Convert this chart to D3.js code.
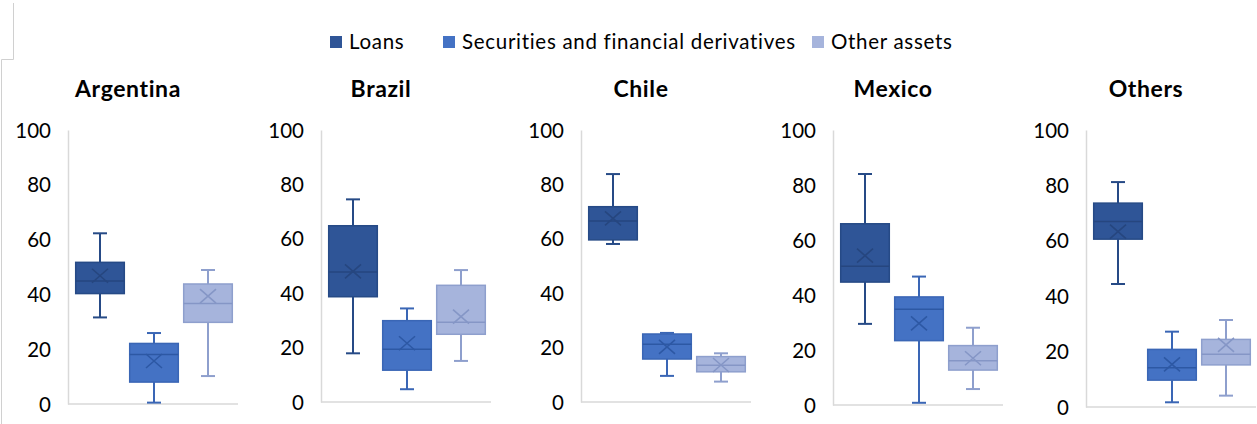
<!DOCTYPE html>
<html>
<head>
<meta charset="utf-8">
<script src="https://cdn.jsdelivr.net/npm/d3@7"></script>
<style>
  html, body { margin: 0; padding: 0; background: #fff; }
  svg { display: block; }
  text { font-family: Lato, "Noto Sans", sans-serif; fill: #000; }
</style>
</head>
<body>
<svg id="chart" width="1257" height="424"></svg>
<script>
// ---- data ----
const countries = ["Argentina", "Brazil", "Chile", "Mexico", "Others"];
const seriesNames = ["Loans", "Securities and financial derivatives", "Other assets"];
const yTicks = [0, 20, 40, 60, 80, 100];
// each row: one country; each column: Loans, Securities, Other assets
const whiskerMin = [[31.6, 0.5, 10.2], [17.9, 4.7, 15.1], [58.1, 9.6, 7.5], [29.5, 0.8, 5.8], [44.4, 1.7, 4.1]];
const quartile1  = [[40.3, 8.0, 29.8], [38.7, 11.7, 24.9], [59.6, 15.8, 11.1], [44.7, 23.4, 12.7], [60.6, 9.7, 15.2]];
const medians    = [[44.9, 18.1, 36.7], [47.8, 19.4, 29.3], [66.5, 21.2, 13.5], [50.5, 34.8, 16.1], [67.0, 14.2, 19.0]];
const quartile3  = [[51.7, 22.1, 43.8], [64.8, 29.9, 42.9], [71.8, 25.0, 16.7], [65.9, 39.3, 21.6], [73.6, 20.8, 24.4]];
const whiskerMax = [[62.3, 25.9, 48.9], [74.5, 34.4, 48.5], [83.8, 25.4, 17.9], [84.0, 46.7, 28.1], [81.2, 27.2, 31.4]];
const means      = [[46.8, 15.7, 39.4], [48.0, 21.6, 31.4], [67.5, 20.3, 13.6], [54.3, 29.7, 17.0], [63.3, 15.4, 22.4]];

// ---- layout & style ----
const panelX = [68, 321, 581, 833, 1086];
const panelBase = [404, 402, 402, 405, 407];
const panelTop = 130;
const panelW = 170;
const fills   = ["#2F5597", "#4472C4", "#A6B4DC"];
const strokes = ["#264A86", "#3A66B5", "#8E9FCD"];
const marks   = ["#26467F", "#2D58A4", "#8596C6"];

const svg = d3.select("#chart");

// decorative frame lines on the left edge
svg.append("path")
  .attr("d", "M13.5,3 V59.5 H1.5 V424")
  .attr("fill", "none").attr("stroke", "#D0D0D0").attr("stroke-width", 1);

// legend
const legendX = [330, 443, 812];
const lg = svg.append("g");
seriesNames.forEach((name, i) => {
  lg.append("rect").attr("x", legendX[i]).attr("y", 36).attr("width", 12).attr("height", 12)
    .attr("fill", fills[i]);
  lg.append("text").attr("x", legendX[i] + 19).attr("y", 49)
    .attr("font-size", 20.5).attr("letter-spacing", 0.7).text(name);
});

countries.forEach((country, ci) => {
  const x0 = panelX[ci];
  const y = d3.scaleLinear().domain([0, 100]).range([panelBase[ci], panelTop]);
  const xb = d3.scaleBand().domain(d3.range(seriesNames.length))
    .range([x0 + 5, x0 + 167]).paddingInner(0.1).paddingOuter(0.05);
  const g = svg.append("g");

  // title
  g.append("text").attr("x", x0 + 60).attr("y", 97).attr("text-anchor", "middle")
    .attr("font-size", 23).attr("letter-spacing", 0.6).attr("font-weight", "bold").text(country);

  // y axis
  const axis = d3.axisLeft(y).tickValues(yTicks).tickSize(0).tickPadding(17);
  const ag = g.append("g").attr("transform", `translate(${x0},0)`).call(axis);
  ag.select(".domain").attr("stroke", "#D9D9D9").attr("stroke-width", 1.5);
  ag.selectAll("text").attr("font-size", 20.5).attr("font-family", "Lato, 'Noto Sans', sans-serif")
    .attr("fill", "#000").attr("dy", "0.35em");
  // baseline
  g.append("line").attr("x1", x0).attr("x2", x0 + panelW)
    .attr("y1", y(0)).attr("y2", y(0)).attr("stroke", "#D9D9D9").attr("stroke-width", 1.5);

  seriesNames.forEach((s, si) => {
    const bx = xb(si), bw = xb.bandwidth(), cx = bx + bw / 2;
    const capW = 14;
    // whiskers
    g.append("line").attr("x1", cx).attr("x2", cx)
      .attr("y1", y(whiskerMax[ci][si])).attr("y2", y(quartile3[ci][si]))
      .attr("stroke", strokes[si]).attr("stroke-width", 2);
    g.append("line").attr("x1", cx).attr("x2", cx)
      .attr("y1", y(quartile1[ci][si])).attr("y2", y(whiskerMin[ci][si]))
      .attr("stroke", strokes[si]).attr("stroke-width", 2);
    [whiskerMax[ci][si], whiskerMin[ci][si]].forEach(v => {
      g.append("line").attr("x1", cx - capW / 2).attr("x2", cx + capW / 2)
        .attr("y1", y(v)).attr("y2", y(v))
        .attr("stroke", strokes[si]).attr("stroke-width", 2);
    });
    // box
    g.append("rect").attr("x", bx).attr("width", bw)
      .attr("y", y(quartile3[ci][si])).attr("height", y(quartile1[ci][si]) - y(quartile3[ci][si]))
      .attr("fill", fills[si]).attr("stroke", strokes[si]).attr("stroke-width", 1.5);
    // median
    g.append("line").attr("x1", bx).attr("x2", bx + bw)
      .attr("y1", y(medians[ci][si])).attr("y2", y(medians[ci][si]))
      .attr("stroke", marks[si]).attr("stroke-width", 1.5);
    // mean X
    const my = y(means[ci][si]);
    const hx = 8, hy = 7;
    g.append("path")
      .attr("d", `M${cx - hx},${my - hy}L${cx + hx},${my + hy}M${cx - hx},${my + hy}L${cx + hx},${my - hy}`)
      .attr("stroke", marks[si]).attr("stroke-width", 1.6).attr("fill", "none");
  });
});
</script>
</body>
</html>
